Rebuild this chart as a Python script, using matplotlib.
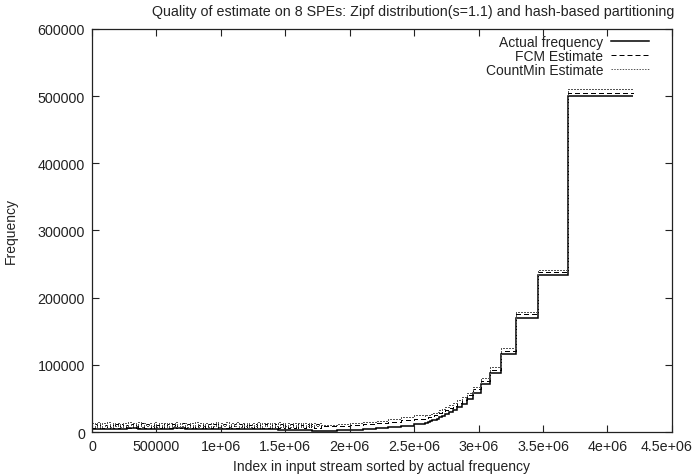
import numpy as np
import matplotlib
matplotlib.use("Agg")
import matplotlib.pyplot as plt
from matplotlib.transforms import ScaledTranslation

# total length of the input stream
stream_len = 4194304

# heaviest items, by decreasing actual frequency (step width = frequency)
head_actual = [500000, 233000, 170000, 116000, 88000, 71000, 58000, 49000, 42000, 37000, 33000,
               29500, 26500, 24000, 22000, 20000, 18500, 17200, 16000, 15000, 14000, 13200]
head_fcm = [505000, 237500, 175000, 121000, 92500, 76000, 63500, 54500, 47500, 43000, 39000,
            35500, 33000, 30500, 28500, 26500, 25000, 24000, 23000, 22000, 21000, 20500]
head_cm = [510000, 241500, 179000, 125000, 96500, 80000, 67500, 58500, 52000, 47000, 43500,
           40000, 37000, 34500, 32500, 30500, 29000, 28000, 27000, 26000, 25000, 24500]

# middle part of the curve, left edges of the samples
mid_x = [1.8e6, 1.9e6, 2.0e6, 2.1e6, 2.2e6, 2.3e6, 2.4e6, 2.5e6]
mid_actual = [1800, 2400, 3200, 4300, 5600, 7200, 9000, 11200]
mid_fcm = [8400, 9000, 10000, 11400, 13000, 15200, 17600, 20000]
mid_cm = [11000, 11800, 13000, 14800, 16800, 19200, 22000, 25000]

# long tail of rare items (0 .. 1.8e6): estimates are noisy
band_end = 1.8e6
band_actual = [4800, 5200, 4600, 5400, 4900, 5100, 4700, 5300, 4500, 5000, 4400, 4800, 4200,
               4600, 4000, 4300, 3600, 3000, 2400, 1800]
band_fcm = [6000, 11800, 5800, 12200, 6400, 11000, 5600, 12600, 6200, 11400, 5900, 12000, 6600,
            10800, 5700, 12400, 6100, 11600, 5800, 12800, 6300, 11200, 5600, 12100, 6500, 10900,
            5900, 12500, 6000, 11700, 5700, 12300, 6400, 11100, 5800, 12700, 6200, 11500, 5600,
            11900, 6600, 10700, 5900, 12400, 6100, 11300, 5700, 12000, 6300, 11800, 5800, 12600,
            6000, 11000, 5600, 12200, 6500, 11400, 5900, 12800, 6200, 10900, 5700, 12100, 6400,
            11600, 5800, 12500, 6000, 11200, 5600, 11900, 6300, 12300, 5900, 10800, 6100, 11700,
            5700, 12400, 6200, 11100, 5800, 12000, 6400, 11500, 6000, 11300, 6300, 10600]
band_cm = [13600, 8200, 14200, 7800, 13000, 8600, 14600, 8000, 13400, 8400, 14000, 7700, 12800,
           8800, 14400, 8100, 13200, 8500, 14800, 7900, 13800, 8300, 12900, 8700, 14300, 8000,
           13500, 8400, 14100, 7800, 13100, 8900, 14700, 8200, 13300, 8600, 13900, 7900, 12700,
           8500, 14500, 8100, 13700, 8300, 14000, 7700, 13000, 8800, 14400, 8000, 13600, 8400,
           14200, 7800, 12900, 8700, 14600, 8200, 13400, 8500, 13800, 7900, 13200, 8600, 14300,
           8100, 13500, 8300, 14100, 7800, 12800, 8900, 14500, 8000, 13300, 8400, 13900, 8200,
           13100, 8600, 14000, 7900, 13600, 8500, 13200, 8800, 13700, 9200, 13000, 10500]

x_ticks = [0, 500000, 1000000, 1500000, 2000000, 2500000, 3000000, 3500000, 4000000, 4500000]
x_tick_labels = ["0", "500000", "1e+06", "1.5e+06", "2e+06", "2.5e+06", "3e+06", "3.5e+06",
                 "4e+06", "4.5e+06"]
y_ticks = [0, 100000, 200000, 300000, 400000, 500000, 600000]


def build_series(band_vals, mid_vals, head_vals):
    """Join tail, middle and head into one set of stair edges/values."""
    head_sorted = np.array(head_vals[::-1], dtype=float)
    head_start = stream_len - np.sum(head_actual)
    head_edges = head_start + np.concatenate([[0], np.cumsum(head_actual[::-1])])
    band_edges = np.linspace(0, band_end, len(band_vals) + 1)
    edges = np.concatenate([band_edges[:-1], mid_x, head_edges])
    values = np.concatenate([band_vals, mid_vals, head_sorted])
    return edges, values


plt.rcParams['font.family'] = ['Liberation Sans', 'DejaVu Sans']
text_col = '#222222'

fig = plt.figure(figsize=(6.92, 4.77), dpi=100)
ax = fig.add_axes([0.133, 0.0922, 0.838, 0.845])

e, v = build_series(band_actual, mid_actual, head_actual)
ax.stairs(v, e, baseline=None, color='black', linewidth=1.1, label='Actual frequency')
e, v = build_series(band_fcm, mid_fcm, head_fcm)
ax.stairs(v, e, baseline=None, color='black', linewidth=0.72, linestyle=(0, (5, 3)),
          antialiased=False, label='FCM Estimate')
e, v = build_series(band_cm, mid_cm, head_cm)
ax.stairs(v, e, baseline=None, color='#555555', linewidth=0.72, linestyle=(0, (1.4, 1.4)),
          antialiased=False, label='CountMin Estimate')

ax.set_xlim(0, 4500000)
ax.set_ylim(0, 600000)
ax.set_xticks(x_ticks)
ax.set_xticklabels(x_tick_labels)
ax.set_yticks(y_ticks)
ax.set_yticklabels([str(t) for t in y_ticks])
ax.tick_params(direction='in', top=True, right=True, length=5, width=0.8,
               labelsize=10.3, colors=text_col, pad=5)
for s in ax.spines.values():
    s.set_linewidth(0.9)
    s.set_color(text_col)

# last x label sits at the figure edge, nudge it in a little
last = ax.get_xticklabels()[-1]
last.set_transform(last.get_transform() + ScaledTranslation(-5 / 100, 0, fig.dpi_scale_trans))

fig.text(0.597, 0.975, 'Quality of estimate on 8 SPEs: Zipf distribution(s=1.1) and hash-based partitioning',
         ha='center', va='center', fontsize=10.3, color=text_col)
ax.set_xlabel('Index in input stream sorted by actual frequency', fontsize=10,
              color=text_col, labelpad=4)
ax.set_ylabel('Frequency', fontsize=10, color=text_col, labelpad=14)

leg = ax.legend(loc='upper right', bbox_to_anchor=(0.97, 1.0), frameon=False,
                markerfirst=False, fontsize=10, handlelength=2.7, handletextpad=0.6,
                labelspacing=0.0, borderaxespad=0.0)
for t in leg.get_texts():
    t.set_color(text_col)

fig.savefig('out.png', dpi=100)
